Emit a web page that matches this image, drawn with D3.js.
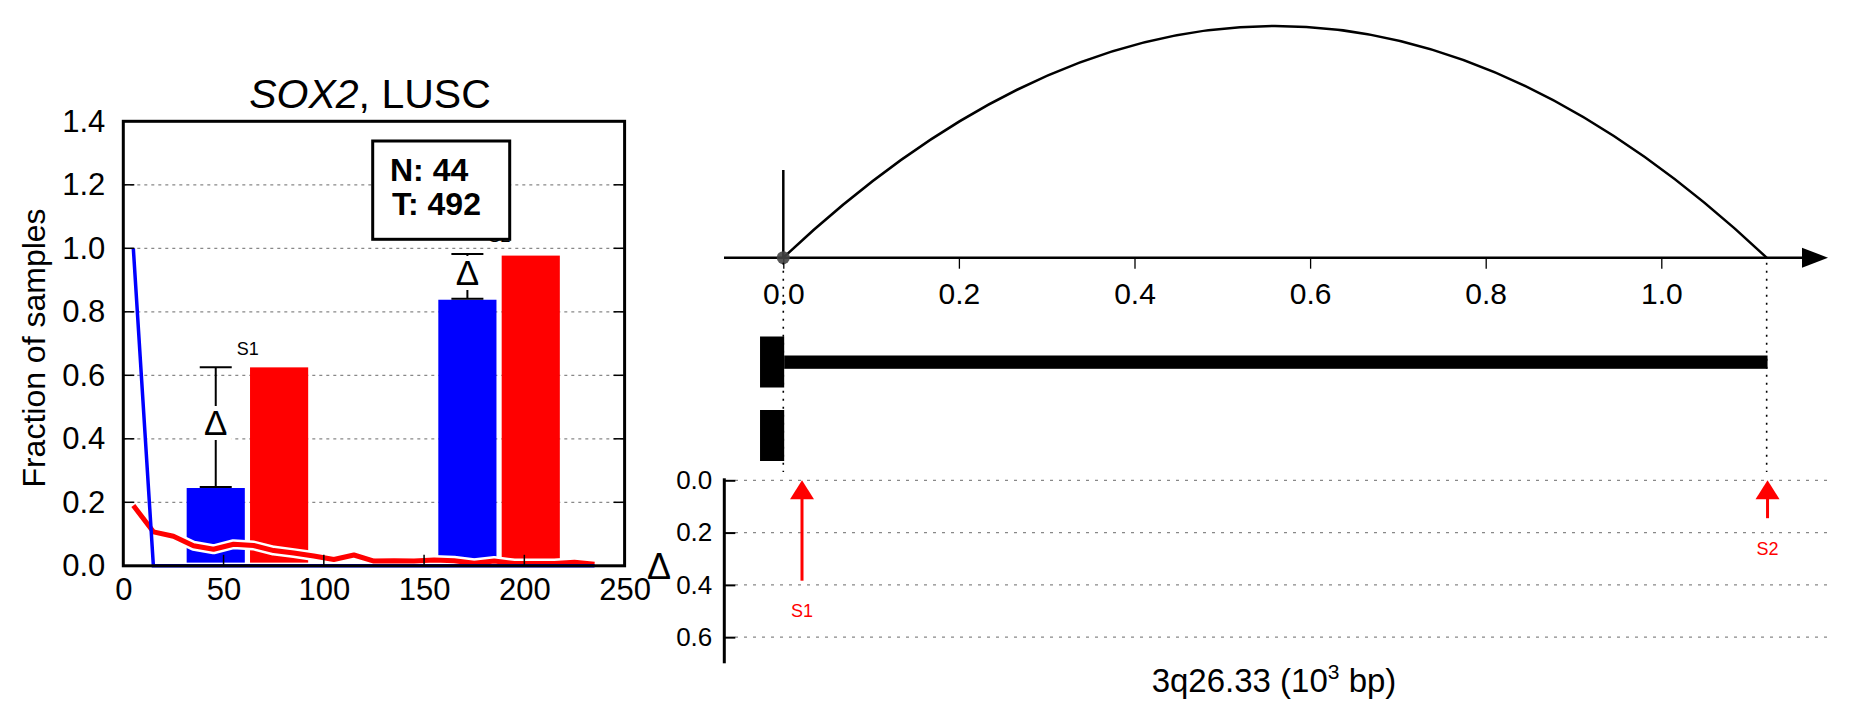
<!DOCTYPE html>
<html><head><meta charset="utf-8">
<script src="https://cdn.jsdelivr.net/npm/d3@7"></script>
<style>body{margin:0;background:#fff} text{font-family:"Liberation Sans",Arial,Helvetica,sans-serif}</style>
</head><body><svg id="c" width="1851" height="718"></svg>
<script>
// ---------- data: left panel ----------
const binX = [5,15,25,35,45,55,65,75,85,95,105,115,125,135,145,155,165,175,185,195,205,215,225,235];
const normalFrac = [1.0,0,0,0,0,0,0,0,0,0,0,0,0,0,0,0,0,0,0,0,0,0,0,0];
const tumorFrac = [0.19,0.107,0.093,0.063,0.052,0.068,0.064,0.048,0.040,0.031,0.020,0.034,0.015,0.016,0.015,0.018,0.016,0.008,0.015,0.007,0.007,0.007,0.011,0.005];
const siteLabels = ["S1","S2"];
const barNormalStart = [31.6,157.1];
const barTumorStart = [63.2,188.7];
const barWidth = 29;
const barBase = 0.01;
const barNormal = [0.245,0.838];
const barTumor = [0.625,0.977];
const errLow = [0.248,0.841];
const errHigh = [0.625,0.982];
const deltaMid = [0.45,0.924];
const yTicksL = [0,0.2,0.4,0.6,0.8,1.0,1.2,1.4];
const xTicksL = [0,50,100,150,200,250];
const gridL = [0.2,0.4,0.6,0.8,1.0,1.2];
const countN = 44, countT = 492;

// ---------- data: right panel ----------
const xTicksR = [0,0.2,0.4,0.6,0.8,1.0];
const arcs = [[0,1.12]];
const geneBounds = [0,1.12];
const tssPos = 0;
const transcriptBlocks = [[-0.0265,0.001],[-0.0265,0.001]];
const transcriptSpan = [[0.001,1.121],null];
const sitePos = [0.0213,1.121];
const siteDelta = [0.384,0.145];
const deltaTicks = [0,0.2,0.4,0.6];

const svg = d3.select("#c");
svg.append("rect").attr("width",1851).attr("height",718).attr("fill","#fff");

// ================= LEFT PANEL =================
const xL = d3.scaleLinear([0,250],[123.3,624.6]);
const yL = d3.scaleLinear([0,1.4],[565.8,121.3]);
const L = svg.append("g");

L.selectAll(".grid").data(gridL).join("line")
  .attr("x1",xL(0)).attr("x2",xL(250)).attr("y1",d=>yL(d)).attr("y2",d=>yL(d))
  .attr("stroke","#888").attr("stroke-width",1.2).attr("stroke-dasharray","3,4");

L.selectAll(".bn").data(barNormal).join("rect")
  .attr("x",(d,i)=>xL(barNormalStart[i])).attr("width",(d,i)=>xL(barNormalStart[i]+barWidth)-xL(barNormalStart[i]))
  .attr("y",d=>yL(d)).attr("height",d=>yL(barBase)-yL(d)).attr("fill","#0000ff");
L.selectAll(".bt").data(barTumor).join("rect")
  .attr("x",(d,i)=>xL(barTumorStart[i])).attr("width",(d,i)=>xL(barTumorStart[i]+barWidth)-xL(barTumorStart[i]))
  .attr("y",d=>yL(d)).attr("height",d=>yL(barBase)-yL(d)).attr("fill","#ff0000");

const lineT = d3.line().x((d,i)=>xL(binX[i])).y(d=>yL(d));
L.append("path").attr("d",lineT(tumorFrac)).attr("fill","none").attr("stroke","#fff").attr("stroke-width",10).attr("stroke-linejoin","round");
L.append("path").attr("d",lineT(tumorFrac)).attr("fill","none").attr("stroke","#ff0000").attr("stroke-width",5).attr("stroke-linejoin","round");
L.append("path").attr("d",lineT(normalFrac)).attr("fill","none").attr("stroke","#0000ff").attr("stroke-width",3.5);

const centers = barNormalStart.map(s=>s+barWidth/2);
centers.forEach((c,i)=>{
  const cx = xL(c);
  L.append("line").attr("x1",cx).attr("x2",cx).attr("y1",yL(errLow[i])).attr("y2",yL(errHigh[i])).attr("stroke","#000").attr("stroke-width",2);
  [errLow[i],errHigh[i]].forEach(v=>{
    L.append("line").attr("x1",cx-16).attr("x2",cx+16).attr("y1",yL(v)).attr("y2",yL(v)).attr("stroke","#000").attr("stroke-width",2);
  });
  L.append("text").attr("x",cx).attr("y",yL(deltaMid[i])+12.5).attr("text-anchor","middle")
    .attr("font-size",35).attr("fill","#000").attr("stroke","#fff").attr("stroke-width",10)
    .attr("paint-order","stroke").text("Δ");
  L.append("text").attr("x",xL(c+10.5)).attr("y",yL(errHigh[i])-12).attr("font-size",18).text(siteLabels[i]);
});

L.append("rect").attr("x",372.7).attr("y",141).attr("width",137).attr("height",98.3)
  .attr("fill","#fff").attr("stroke","#000").attr("stroke-width",3);
L.append("text").attr("x",390).attr("y",181).attr("font-size",32).attr("font-weight","bold").text("N: "+countN);
L.append("text").attr("x",392).attr("y",215).attr("font-size",32).attr("font-weight","bold").text("T: "+countT);

L.append("rect").attr("x",xL(0)).attr("y",yL(1.4)).attr("width",xL(250)-xL(0)).attr("height",yL(0)-yL(1.4))
  .attr("fill","none").attr("stroke","#000").attr("stroke-width",3);

L.selectAll(".tl").data(gridL).join("line").attr("x1",xL(0)).attr("x2",xL(0)+11).attr("y1",d=>yL(d)).attr("y2",d=>yL(d)).attr("stroke","#000").attr("stroke-width",1.5);
L.selectAll(".tr").data(gridL).join("line").attr("x1",xL(250)-11).attr("x2",xL(250)).attr("y1",d=>yL(d)).attr("y2",d=>yL(d)).attr("stroke","#000").attr("stroke-width",1.5);
L.selectAll(".tb").data(xTicksL.slice(1,5)).join("line").attr("x1",d=>xL(d)).attr("x2",d=>xL(d)).attr("y1",yL(0)).attr("y2",yL(0)-11).attr("stroke","#000").attr("stroke-width",1.5);

const axY = L.append("g").attr("transform",`translate(${xL(0)},0)`)
  .call(d3.axisLeft(yL).tickValues(yTicksL).tickFormat(d3.format(".1f")).tickSize(0).tickPadding(18));
axY.select(".domain").remove();
axY.selectAll("text").attr("font-size",31).attr("fill","#000").attr("font-family",null);
const axX = L.append("g").attr("transform",`translate(0,${yL(0)})`)
  .call(d3.axisBottom(xL).tickValues(xTicksL).tickFormat(d3.format("d")).tickSize(0).tickPadding(12));
axX.select(".domain").remove();
axX.selectAll("text").attr("font-size",31).attr("fill","#000").attr("font-family",null);

L.append("text").attr("transform","translate(45,348) rotate(-90)").attr("text-anchor","middle").attr("font-size",32).text("Fraction of samples");
const title = L.append("text").attr("x",370).attr("y",108).attr("text-anchor","middle").attr("font-size",41);
title.append("tspan").attr("font-style","italic").text("SOX2");
title.append("tspan").text(", LUSC");

// ================= RIGHT PANEL =================
const xR = d3.scaleLinear([0,1],[783.3,1661.3]);
const axisY = 257.7;
const arcH = 231.7;
const R = svg.append("g");

arcs.forEach(([a,b])=>{
  const p = d3.path();
  p.moveTo(xR(a),axisY);
  p.quadraticCurveTo((xR(a)+xR(b))/2, axisY-2*arcH, xR(b), axisY);
  R.append("path").attr("d",p.toString()).attr("fill","none").attr("stroke","#000").attr("stroke-width",2.5);
});
R.append("line").attr("x1",xR(tssPos)).attr("x2",xR(tssPos)).attr("y1",170).attr("y2",axisY).attr("stroke","#000").attr("stroke-width",2.5);

R.append("line").attr("x1",724).attr("x2",1806).attr("y1",axisY).attr("y2",axisY).attr("stroke","#000").attr("stroke-width",2.5);
R.append("path").attr("d",`M1802,${axisY-10}L1828,${axisY}L1802,${axisY+10}Z`).attr("fill","#000");
const axR = R.append("g").attr("transform",`translate(0,${axisY})`)
  .call(d3.axisBottom(xR).tickValues(xTicksR).tickFormat(d3.format(".1f")).tickSize(11).tickPadding(14));
axR.select(".domain").remove();
axR.selectAll("line").attr("stroke","#000").attr("stroke-width",1.3);
axR.selectAll("text").attr("font-size",30).attr("fill","#000").attr("font-family",null);

R.append("circle").attr("cx",xR(tssPos)).attr("cy",axisY).attr("r",6.5).attr("fill","#444").attr("opacity",0.9);

R.selectAll(".gb").data(geneBounds).join("line")
  .attr("x1",d=>xR(d)).attr("x2",d=>xR(d)).attr("y1",axisY+5).attr("y2",472)
  .attr("stroke","#000").attr("stroke-width",1.6).attr("stroke-dasharray","2,6");

const rowCenter = [362,435.5];
transcriptBlocks.forEach((b,i)=>{
  R.append("rect").attr("x",xR(b[0])).attr("width",xR(b[1])-xR(b[0])).attr("y",rowCenter[i]-25.5).attr("height",51).attr("fill","#000");
  const s = transcriptSpan[i];
  if(s) R.append("rect").attr("x",xR(s[0])).attr("width",xR(s[1])-xR(s[0])).attr("y",rowCenter[i]-6.5).attr("height",13.3).attr("fill","#000");
});

const yD = d3.scaleLinear([0,0.7],[480.3,663.3]);
R.selectAll(".gd").data(deltaTicks).join("line")
  .attr("x1",735).attr("x2",1830).attr("y1",d=>yD(d)).attr("y2",d=>yD(d))
  .attr("stroke","#888").attr("stroke-width",1.2).attr("stroke-dasharray","3,6");
R.append("line").attr("x1",724.3).attr("x2",724.3).attr("y1",478.3).attr("y2",yD(0.7)).attr("stroke","#000").attr("stroke-width",3);
const axD = R.append("g").attr("transform","translate(724.3,0)")
  .call(d3.axisRight(yD).tickValues(deltaTicks).tickFormat(d3.format(".1f")).tickSize(11).tickPadding(0));
axD.select(".domain").remove();
axD.selectAll("line").attr("stroke","#000").attr("stroke-width",2);
axD.selectAll("text").attr("font-size",26).attr("fill","#000").attr("font-family",null)
  .attr("text-anchor","end").attr("x",-12);

sitePos.forEach((p,i)=>{
  const x = xR(p);
  R.append("line").attr("x1",x).attr("x2",x).attr("y1",yD(0)+18).attr("y2",yD(siteDelta[i])).attr("stroke","#ff0000").attr("stroke-width",3);
  R.append("path").attr("d",`M${x},${yD(0)}L${x+12},${yD(0)+19}L${x-12},${yD(0)+19}Z`).attr("fill","#ff0000");
  R.append("text").attr("x",x).attr("y",yD(siteDelta[i])+36.5).attr("text-anchor","middle").attr("font-size",18).attr("fill","#ff0000").text(siteLabels[i]);
});

R.append("text").attr("x",659).attr("y",579).attr("text-anchor","middle").attr("font-size",36).text("Δ");
const xl = R.append("text").attr("x",1274).attr("y",692).attr("text-anchor","middle").attr("font-size",33);
xl.append("tspan").text("3q26.33 (10");
xl.append("tspan").attr("dy",-13).attr("font-size",21).text("3");
xl.append("tspan").attr("dy",13).text(" bp)");
</script></body></html>
